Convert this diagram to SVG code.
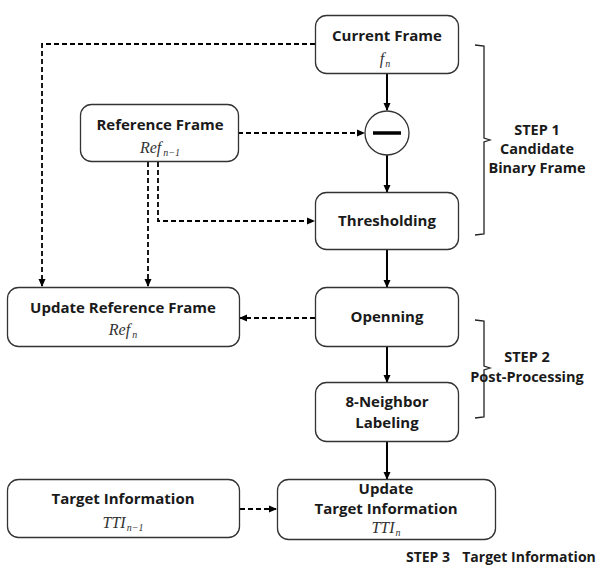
<svg xmlns="http://www.w3.org/2000/svg" width="596" height="567" viewBox="0 0 596 567">
  <style>
    .box { fill: #ffffff; stroke: #333333; stroke-width: 1.3; }
    .title { font-family: "Open Sans", "Noto Sans", sans-serif; font-weight: bold; font-size: 15px; fill: #1a1a1a; text-anchor: middle; }
    .math { font-family: "Liberation Serif", serif; font-style: italic; font-size: 16px; fill: #333333; text-anchor: middle; }
    .sub { font-size: 10px; }
    .solid { stroke: #000000; stroke-width: 2; fill: none; }
    .dash { stroke: #000000; stroke-width: 1.8; stroke-dasharray: 5 3; fill: none; }
    .brace { stroke: #222222; stroke-width: 1.3; fill: none; }
    .step { font-family: "Open Sans", "Noto Sans", sans-serif; font-weight: bold; font-size: 14.5px; fill: #1a1a1a; text-anchor: middle; }
  </style>
  <defs>
    <marker id="arr" markerWidth="8" markerHeight="8" refX="7" refY="4" orient="auto" markerUnits="userSpaceOnUse">
      <path d="M0,0.5 L8,4 L0,7.5 Z" fill="#000000"/>
    </marker>
  </defs>
  <rect width="596" height="567" fill="#ffffff"/>

  <!-- connectors -->
  <g id="connectors">
    <line class="solid" x1="387" y1="74" x2="387" y2="110" marker-end="url(#arr)"/>
    <line class="solid" x1="387" y1="155" x2="387" y2="192" marker-end="url(#arr)"/>
    <line class="solid" x1="387" y1="250" x2="387" y2="287" marker-end="url(#arr)"/>
    <line class="solid" x1="387" y1="347" x2="387" y2="382" marker-end="url(#arr)"/>
    <line class="solid" x1="387" y1="442" x2="387" y2="479" marker-end="url(#arr)"/>
    <polyline class="dash" points="315,44 42,44 42,286" marker-end="url(#arr)"/>
    <line class="dash" x1="238" y1="133" x2="364" y2="133" marker-end="url(#arr)"/>
    <line class="dash" x1="148" y1="162" x2="148" y2="286" marker-end="url(#arr)"/>
    <polyline class="dash" points="158,162 158,221 314,221" marker-end="url(#arr)"/>
    <line class="dash" x1="315" y1="318" x2="240" y2="318" marker-end="url(#arr)"/>
    <line class="dash" x1="240" y1="509" x2="276" y2="509" marker-end="url(#arr)"/>
  </g>

  <g id="current-frame">
    <rect class="box" x="315.5" y="15.5" width="143" height="58" rx="11"/>
    <text class="title" x="387" y="41">Current Frame</text>
    <text class="math" x="385" y="64">f<tspan class="sub" dx="1" dy="3">n</tspan></text>
  </g>

  <g id="subtract">
    <circle cx="387" cy="133" r="22" fill="#ffffff" stroke="#333333" stroke-width="1.3"/>
    <line x1="373" y1="133" x2="401" y2="133" stroke="#000000" stroke-width="3.5"/>
  </g>

  <g id="reference-frame">
    <rect class="box" x="80.5" y="104.5" width="158" height="57" rx="11"/>
    <text class="title" x="160" y="130">Reference Frame</text>
    <text class="math" x="160" y="153">Ref<tspan class="sub" dx="2" dy="3">n−1</tspan></text>
  </g>

  <g id="thresholding">
    <rect class="box" x="315.5" y="192.5" width="143" height="57" rx="11"/>
    <text class="title" x="387" y="226">Thresholding</text>
  </g>

  <g id="update-reference-frame">
    <rect class="box" x="7.5" y="287.5" width="232" height="59" rx="11"/>
    <text class="title" x="123" y="313">Update Reference Frame</text>
    <text class="math" x="123" y="335">Ref<tspan class="sub" dx="2" dy="3">n</tspan></text>
  </g>

  <g id="openning">
    <rect class="box" x="315.5" y="287.5" width="143" height="59" rx="11"/>
    <text class="title" x="387" y="322">Openning</text>
  </g>

  <g id="neighbor-labeling">
    <rect class="box" x="315.5" y="382.5" width="143" height="59" rx="11"/>
    <text class="title" x="387" y="407">8-Neighbor</text>
    <text class="title" x="387" y="428">Labeling</text>
  </g>

  <g id="target-information">
    <rect class="box" x="7.5" y="479.5" width="232" height="58" rx="11"/>
    <text class="title" x="123" y="504">Target Information</text>
    <text class="math" x="123" y="528">TTI<tspan class="sub" dx="1" dy="3">n−1</tspan></text>
  </g>

  <g id="update-target-information">
    <rect class="box" x="277.5" y="479.5" width="218" height="60" rx="11"/>
    <text class="title" x="386" y="494">Update</text>
    <text class="title" x="386" y="514">Target Information</text>
    <text class="math" x="386" y="533">TTI<tspan class="sub" dx="1" dy="3">n</tspan></text>
  </g>

  <!-- step braces and labels -->
  <g id="step1">
    <path class="brace" d="M475,45 L484,46 L484,138 L490,140 L484,142 L484,234 L475,235"/>
    <text class="step" x="537" y="135">STEP 1</text>
    <text class="step" x="537" y="154">Candidate</text>
    <text class="step" x="537" y="173">Binary Frame</text>
  </g>
  <g id="step2">
    <path class="brace" d="M475,320 L484,321 L484,366 L490,368 L484,370 L484,417 L475,418"/>
    <text class="step" x="527" y="362">STEP 2</text>
    <text class="step" x="527" y="382">Post-Processing</text>
  </g>
  <g id="step3">
    <text class="step" x="428" y="562" style="font-size:14px">STEP 3</text>
    <text class="step" x="529" y="562" style="font-size:14px">Target Information</text>
  </g>
</svg>
